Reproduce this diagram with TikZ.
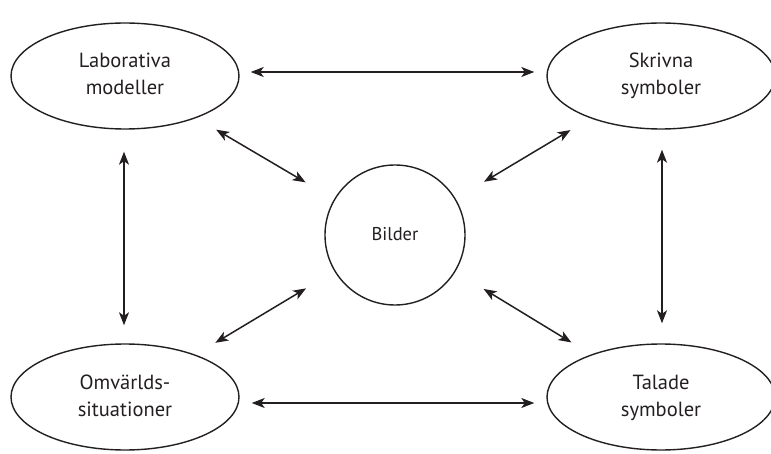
\documentclass[tikz,border=0pt]{standalone}
\usepackage{fontspec}
\setmainfont{PT Sans}
\usetikzlibrary{shapes.geometric,arrows.meta}
\definecolor{ink}{HTML}{231F20}
\newcommand{\twolines}[3]{\raisebox{#3}{\begin{tabular}{@{}c@{}}#1\\[-0.5pt]#2\end{tabular}}}
\tikzset{
  oval/.style={ellipse,draw=ink,line width=1.4pt,minimum width=228pt,minimum height=106pt,inner sep=0pt,align=center,font=\fontsize{20.5}{27.5}\selectfont,text=ink},
  roundbox/.style={circle,draw=ink,line width=1.4pt,minimum size=140pt,inner sep=0pt,font=\fontsize{18.5}{22}\selectfont,text=ink},
  link/.style={{Stealth[length=13pt,width=10pt,inset=3.5pt]}-{Stealth[length=13pt,width=10pt,inset=3.5pt]},line width=1.5pt,draw=ink}
}
\begin{document}
\begin{tikzpicture}[x=1pt,y=1pt]
\useasboundingbox (0,0) rectangle (771,453);
\node[oval] (tl) at (125,377) {\twolines{Laborativa}{modeller}{4pt}};
\node[oval] (tr) at (661,377) {\twolines{Skrivna}{symboler}{4pt}};
\node[oval] (bl) at (125,56) {\twolines{Omvärlds-}{situationer}{-3pt}};
\node[oval] (br) at (661,56) {\twolines{Talade}{symboler}{-3pt}};
\node[roundbox] (c) at (395,218) {\raisebox{2pt}{Bilder}};
\draw[link] ([yshift=4pt,xshift=11pt]tl.east) -- ([yshift=4pt,xshift=-12pt]tr.west);
\draw[link] ([yshift=-6pt,xshift=12pt]bl.east) -- ([yshift=-6pt,xshift=-12pt]br.west);
\draw[link] ([xshift=-1pt,yshift=-22pt]tl.south) -- ([xshift=-1pt,yshift=18pt]bl.north);
\draw[link] ([xshift=1pt,yshift=-20pt]tr.south) -- ([xshift=1pt,yshift=20pt]br.north);
\draw[link,shorten <=23pt,shorten >=33pt] (tl) -- (c);
\draw[link,shorten <=23pt,shorten >=33pt] (tr) -- (c);
\draw[link,shorten <=23pt,shorten >=33pt] (bl) -- (c);
\draw[link,shorten <=23pt,shorten >=33pt] (br) -- (c);
\end{tikzpicture}
\end{document}
